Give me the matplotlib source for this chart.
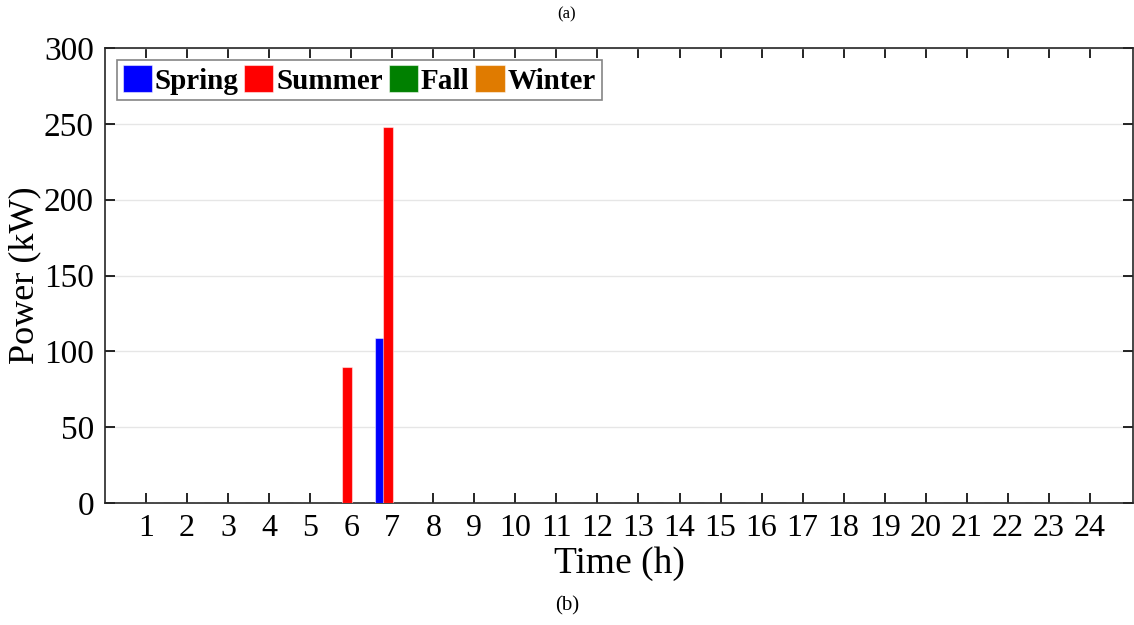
import numpy as np
import matplotlib.pyplot as plt

plt.rcParams['font.family'] = ['Liberation Serif', 'DejaVu Serif']

# DATOS ---------------------------------------------------------------
hours  = np.arange(1, 25)
seasons = ["Spring", "Summer", "Fall", "Winter"]
colors  = ["#0000ff", "#ff0000", "#008000", "#e07b00"]

spring = [0]*24
summer = [0]*24
fall   = [0]*24
winter = [0]*24
spring[6] = 109     # hora 7
summer[5] = 90      # hora 6
summer[6] = 248     # hora 7

series = [spring, summer, fall, winter]

# GRAFICO -------------------------------------------------------------
fig = plt.figure(figsize=(11.34, 6.25), dpi=100)
ax = fig.add_axes([105/1134, 1 - 503/625, (1133 - 105)/1134, (503 - 48)/625])

w = 0.2
offsets = [-1.5*w, -0.5*w, 0.5*w, 1.5*w]
for vals, name, c, off in zip(series, seasons, colors, offsets):
    ax.bar(hours + off, vals, width=w*1.15, color=c, label=name,
           edgecolor=(1, 1, 1, 0.5), linewidth=0.8, zorder=3)

ax.set_xlim(0, 25.05)
ax.set_ylim(0, 300)
ax.set_xticks(hours)
ax.set_yticks(np.arange(0, 301, 50))
ax.tick_params(direction='in', top=True, right=True, length=7, width=1.2,
               labelsize=24, pad=8)
ax.tick_params(axis='x', labelsize=23)
ax.grid(axis='y', color='#e6e6e6', linewidth=1, zorder=0)
for s in ax.spines.values():
    s.set_linewidth(1.2)
    s.set_color('#262626')

ax.set_xlabel("Time (h)", fontsize=27, labelpad=2)
ax.set_ylabel("Power (kW)", fontsize=26, labelpad=2)

leg = ax.legend(loc='upper left', ncol=4, frameon=True, fancybox=False,
                prop={'weight': 'bold', 'size': 21}, handlelength=1.0,
                handleheight=1.0, handletextpad=0.1, columnspacing=0.2,
                borderpad=0.2, borderaxespad=0.4)
leg.get_frame().set_edgecolor('#666666')
leg.get_frame().set_linewidth(1.2)

fig.text(0.5, 1 - 14/625, "(a)", ha='center', va='center', fontsize=12)
fig.text(0.5, 1 - 606/625, "(b)", ha='center', va='center', fontsize=15)

fig.savefig("out.png", dpi=100)
